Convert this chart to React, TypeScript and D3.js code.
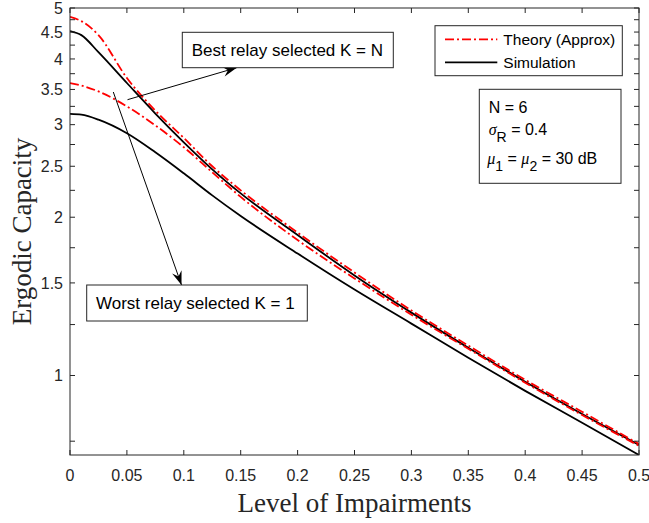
import React from 'react';
import * as d3 from 'd3';

const impairment = [0, 0.01, 0.025, 0.05, 0.075, 0.1, 0.125, 0.15, 0.2, 0.25, 0.3, 0.35, 0.4, 0.45, 0.5];
const theoryBest = [4.81, 4.72, 4.44, 3.68, 3.19, 2.83, 2.5, 2.25, 1.87, 1.57, 1.33, 1.14, 0.981, 0.853, 0.741];
const simBest = [4.52, 4.44, 4.12, 3.6, 3.15, 2.777, 2.467, 2.22, 1.85, 1.55, 1.317, 1.129, 0.973, 0.845, 0.738];
const theoryWorst = [3.6, 3.56, 3.47, 3.25, 2.99, 2.717, 2.435, 2.186, 1.81, 1.53, 1.305, 1.124, 0.969, 0.841, 0.735];
const simWorst = [3.145, 3.134, 3.066, 2.889, 2.658, 2.424, 2.201, 2.011, 1.706, 1.457, 1.255, 1.081, 0.935, 0.813, 0.706];

const xTicks = [0, 0.05, 0.1, 0.15, 0.2, 0.25, 0.3, 0.35, 0.4, 0.45, 0.5];
const xTickLabels = ['0', '0.05', '0.1', '0.15', '0.2', '0.25', '0.3', '0.35', '0.4', '0.45', '0.5'];
const yTicks = [0.75, 1, 1.25, 1.5, 1.75, 2, 2.25, 2.5, 2.75, 3, 3.25, 3.5, 3.75, 4, 4.25, 4.5, 4.75, 5];
const yLabelTicks = [1, 1.5, 2, 2.5, 3, 3.5, 4, 4.5, 5];
const yTickLabels = ['1', '1.5', '2', '2.5', '3', '3.5', '4', '4.5', '5'];

const legendLabels = ['Theory (Approx)', 'Simulation'];
const bestLabel = 'Best relay selected K = N';
const worstLabel = 'Worst relay selected K = 1';

const W = 649, H = 523;
const L = 70, R = 639, T = 8, B = 455;
const AX = '#262626';
const SANS = '"Liberation Sans", Arial, Helvetica, sans-serif';
const SERIF = '"Liberation Serif", "Times New Roman", serif';

function arrowHead(x1: number, y1: number, x2: number, y2: number, len = 14, hw = 5) {
  const dx = x2 - x1, dy = y2 - y1;
  const d = Math.hypot(dx, dy);
  const ux = dx / d, uy = dy / d;
  const px = -uy, py = ux;
  const bx = x2 - ux * len, by = y2 - uy * len;
  const ix = x2 - ux * len * 0.65, iy = y2 - uy * len * 0.65;
  return `M${x2},${y2} L${bx + px * hw},${by + py * hw} L${ix},${iy} L${bx - px * hw},${by - py * hw} Z`;
}

export default function App() {
  const x = d3.scaleLinear().domain([0, 0.5]).range([L, R]);
  const y = d3.scaleLog().domain([0.706, 5]).range([B, T]);
  const line = d3.line<number>()
    .x((_, i) => x(impairment[i]))
    .y((d) => y(d))
    .curve(d3.curveMonotoneX);
  const tl = 5;
  const dash = '9,3,2,3';
  const bestA = { x1: 127.5, y1: 99.7, x2: 236.7, y2: 67.7 };
  const worstA = { x1: 113.3, y1: 92, x2: 181.5, y2: 285 };
  return (
    <svg width={W} height={H} style={{ position: 'absolute', left: 0, top: 0, background: '#fff' }}>
      <rect x={0} y={0} width={W} height={H} fill="#fff" />
      <defs>
        <clipPath id="plot">
          <rect x={L} y={T} width={R - L} height={B - T} />
        </clipPath>
      </defs>
      <g clipPath="url(#plot)" fill="none">
        <path d={line(simBest) || ''} stroke="#000" strokeWidth={1.8} />
        <path d={line(simWorst) || ''} stroke="#000" strokeWidth={1.8} />
        <path d={line(theoryBest) || ''} stroke="#ff0000" strokeWidth={1.8} strokeDasharray={dash} />
        <path d={line(theoryWorst) || ''} stroke="#ff0000" strokeWidth={1.8} strokeDasharray={dash} />
      </g>
      <rect x={L} y={T} width={R - L} height={B - T} fill="none" stroke={AX} strokeWidth={1} />
      {xTicks.map((t, i) => (
        <g key={'xt' + i}>
          <line x1={x(t)} x2={x(t)} y1={B} y2={B - tl} stroke={AX} />
          <line x1={x(t)} x2={x(t)} y1={T} y2={T + tl} stroke={AX} />
          <text x={x(t)} y={481} textAnchor="middle" fontFamily={SANS} fontSize={16} fill={AX}>{xTickLabels[i]}</text>
        </g>
      ))}
      {yTicks.map((t, i) => (
        <g key={'yt' + i}>
          <line x1={L} x2={L + tl} y1={y(t)} y2={y(t)} stroke={AX} />
          <line x1={R} x2={R - tl} y1={y(t)} y2={y(t)} stroke={AX} />
        </g>
      ))}
      {yLabelTicks.map((t, i) => (
        <text key={'yl' + i} x={63} y={y(t)} dy="0.35em" textAnchor="end" fontFamily={SANS} fontSize={16} fill={AX}>{yTickLabels[i]}</text>
      ))}
      <text x={(L + R) / 2} y={512} textAnchor="middle" fontFamily={SERIF} fontSize={27} fill={AX}>Level of Impairments</text>
      <text transform={`translate(31,${(T + B) / 2}) rotate(-90)`} textAnchor="middle" fontFamily={SERIF} fontSize={27} fill={AX}>Ergodic Capacity</text>
      <rect x={435} y={25.7} width={187.3} height={50} fill="#fff" stroke={AX} strokeWidth={1} />
      <line x1={445} x2={497.3} y1={39.3} y2={39.3} stroke="#ff0000" strokeWidth={1.8} strokeDasharray={dash} />
      <line x1={445} x2={497.3} y1={62.3} y2={62.3} stroke="#000" strokeWidth={1.8} />
      <text x={503.3} y={45} fontFamily={SANS} fontSize={15.5} fill="#000">{legendLabels[0]}</text>
      <text x={503.3} y={68} fontFamily={SANS} fontSize={15.5} fill="#000">{legendLabels[1]}</text>
      <rect x={479.3} y={89.3} width={141.7} height={94} fill="#fff" stroke={AX} strokeWidth={1} />
      <text x={488.7} y={113.3} fontFamily={SANS} fontSize={16} fill="#000">N = 6</text>
      <text x={488.7} y={135} fontFamily={SANS} fontSize={16} fill="#000">
        <tspan fontStyle="italic" fontFamily={SERIF}>σ</tspan>
        <tspan fontSize={14} dy={7}>R</tspan>
        <tspan dy={-7}> = 0.4</tspan>
      </text>
      <text x={487.3} y={163.5} fontFamily={SANS} fontSize={16} fill="#000">
        <tspan fontStyle="italic" fontFamily={SERIF}>μ</tspan>
        <tspan fontSize={14} dy={7}>1</tspan>
        <tspan dy={-7}> = </tspan>
        <tspan fontStyle="italic" fontFamily={SERIF}>μ</tspan>
        <tspan fontSize={14} dy={7}>2</tspan>
        <tspan dy={-7}> = 30 dB</tspan>
      </text>
      <line x1={bestA.x1} y1={bestA.y1} x2={bestA.x2} y2={bestA.y2} stroke="#000" strokeWidth={1} />
      <path d={arrowHead(bestA.x1, bestA.y1, bestA.x2, bestA.y2)} fill="#000" />
      <line x1={worstA.x1} y1={worstA.y1} x2={worstA.x2} y2={worstA.y2} stroke="#000" strokeWidth={1} />
      <path d={arrowHead(worstA.x1, worstA.y1, worstA.x2, worstA.y2)} fill="#000" />
      <rect x={182.3} y={32.3} width={211} height={35.4} fill="#fff" stroke={AX} strokeWidth={1} />
      <text x={191.7} y={56} fontFamily={SANS} fontSize={17} fill="#000">{bestLabel}</text>
      <rect x={86.7} y={285} width={220.6} height={36} fill="#fff" stroke={AX} strokeWidth={1} />
      <text x={96} y={309} fontFamily={SANS} fontSize={17} fill="#000">{worstLabel}</text>
    </svg>
  );
}
